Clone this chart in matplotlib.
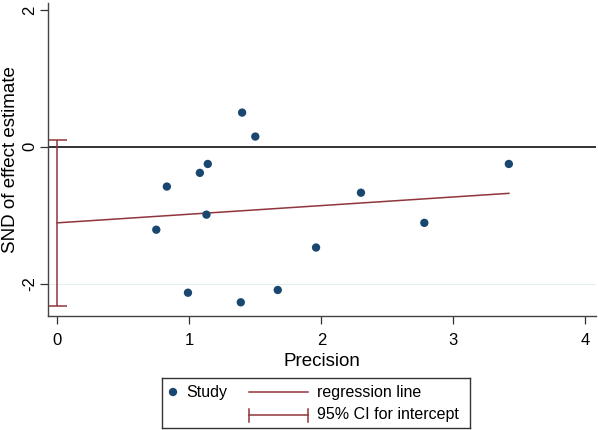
import numpy as np
import matplotlib
matplotlib.use("Agg")
import matplotlib.pyplot as plt

plt.rcParams["font.family"] = ["Liberation Sans", "DejaVu Sans"]
plt.rcParams["axes.unicode_minus"] = False

# Galbraith-style data: precision vs standard normal deviate
precision = [1.40, 1.50, 1.08, 1.14, 0.83, 1.13, 0.75, 0.99, 1.39, 1.67,
             3.42, 2.30, 1.96, 2.78]
snd = [0.50, 0.15, -0.38, -0.25, -0.58, -0.99, -1.21, -2.13, -2.27, -2.09,
       -0.25, -0.67, -1.47, -1.11]

# regression line (intercept, slope) and CI for the intercept
intercept = -1.11
slope = 0.126
ci_low, ci_high = -2.33, 0.10

x_ticks = [0, 1, 2, 3, 4]
y_ticks = [-2, 0, 2]

navy = "#1a476f"
maroon = "#90353b"

fig = plt.figure(figsize=(5.98, 4.30), dpi=100)
ax = fig.add_axes([48 / 598, 114 / 430, 548 / 598, 313 / 430])

ax.axhline(-2, color="#e6eef0", lw=0.8, zorder=0)
ax.axhline(0, color="#222222", lw=1.3, zorder=1)

xr = np.array([0, max(precision)])
ax.plot(xr, intercept + slope * xr, color=maroon, lw=1.1, zorder=2)

ax.errorbar([0], [(ci_low + ci_high) / 2], yerr=[[(ci_high - ci_low) / 2]],
            fmt="none", ecolor=maroon, elinewidth=1.1, capsize=7,
            capthick=1.1, zorder=2)

ax.scatter(precision, snd, s=36, color=navy, edgecolors="none", zorder=3)

ax.set_xlim(-0.07, 4.08)
ax.set_ylim(-2.47, 2.10)
ax.set_xticks(x_ticks)
ax.set_yticks(y_ticks)
ax.set_yticklabels([str(t) for t in y_ticks], rotation=90, va="center")
ax.tick_params(axis="both", direction="out", length=6, width=0.9,
               colors="#333333", labelsize=12, labelcolor="black")
ax.tick_params(axis="x", pad=6)
ax.tick_params(axis="y", pad=2)

for side in ["top", "right"]:
    ax.spines[side].set_visible(False)
for side in ["left", "bottom"]:
    ax.spines[side].set_color("#444444")
    ax.spines[side].set_linewidth(1.0)

ax.set_xlabel("Precision", fontsize=13.5, labelpad=4)
ax.set_ylabel("SND of effect estimate", fontsize=13.5)
ax.yaxis.set_label_coords((19 - 48) / 548, 0.5)

# legend box drawn in pixel units
lg = fig.add_axes([162 / 598, 2 / 430, 308 / 598, 50 / 430])
lg.set_xlim(0, 308)
lg.set_ylim(50, 0)
lg.set_xticks([])
lg.set_yticks([])
for s in lg.spines.values():
    s.set_color("#333333")
    s.set_linewidth(1.0)
lg.scatter([11], [14], s=36, color=navy, edgecolors="none")
lg.text(24, 14, "Study", fontsize=11.5, va="center")
lg.plot([87, 146], [14, 14], color=maroon, lw=1.1)
lg.text(155, 14, "regression line", fontsize=11.5, va="center")
lg.plot([87, 146], [37, 37], color=maroon, lw=1.1)
lg.plot([87, 87], [30.5, 43.5], color=maroon, lw=1.1)
lg.plot([146, 146], [30.5, 43.5], color=maroon, lw=1.1)
lg.text(155, 37, "95% CI for intercept", fontsize=11.5, va="center")

fig.savefig("out.png", dpi=100)
